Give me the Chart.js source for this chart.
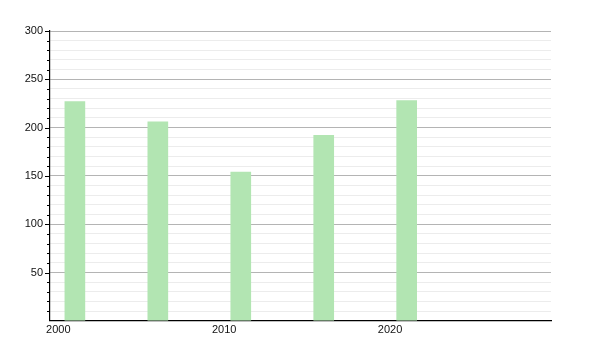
<!DOCTYPE html>
<html><head><meta charset="utf-8">
<script src="https://cdn.jsdelivr.net/npm/chart.js@4"></script>
<style>html,body{margin:0;padding:0;background:#fff}#wrap{width:600px;height:350px}</style>
</head><body><div id="wrap"><canvas id="c" width="600" height="350"></canvas></div>
<script>
const years = [2001, 2006, 2011, 2016, 2021];
const values = [227, 206, 154, 192, 228];
const xTicks = [2000, 2010, 2020];
const yLabelTicks = [50, 100, 150, 200, 250, 300];

const minorTicks = {
  id: 'minorTicks',
  afterDraw(chart) {
    const y = chart.scales.y, ctx = chart.ctx;
    const x0 = chart.chartArea.left;
    ctx.save();
    ctx.strokeStyle = '#000';
    ctx.lineWidth = 1;
    for (let v = 10; v <= 300; v += 10) {
      const py = Math.round(y.getPixelForValue(v)) + 0.5;
      const len = (v % 50 === 0) ? 5 : 3;
      ctx.beginPath();
      ctx.moveTo(x0 - len, py);
      ctx.lineTo(x0, py);
      ctx.stroke();
    }
    ctx.restore();
  }
};

new Chart(document.getElementById('c'), {
  type: 'bar',
  data: {
    datasets: [{
      data: years.map((x, i) => ({x: x, y: values[i]})),
      backgroundColor: '#b2e5b2',
      borderWidth: 0,
      barThickness: 20
    }]
  },
  options: {
    responsive: false,
    animation: false,
    layout: {padding: {top: 31, right: 49, left: 0, bottom: 10}},
    plugins: {legend: {display: false}, tooltip: {enabled: false}},
    scales: {
      x: {
        type: 'linear',
        offset: false,
        min: 1999.5,
        max: 2029.7,
        afterBuildTicks(s) { s.ticks = xTicks.map(v => ({value: v})); },
        grid: {display: false, drawTicks: false, offset: false},
        border: {display: true, color: '#000', width: 1.2},
        ticks: {color: '#111', font: {family: 'Liberation Sans', size: 11}, padding: 3, maxRotation: 0,
          callback: v => String(v)}
      },
      y: {
        min: 0,
        max: 300,
        afterFit(s) { s.width = 50; },
        ticks: {
          stepSize: 10,
          autoSkip: false,
          color: '#111',
          font: {family: 'Liberation Sans', size: 11},
          padding: 7,
          callback: v => (yLabelTicks.includes(v) ? String(v) : '')
        },
        grid: {
          drawTicks: false,
          color: c => (c.tick && c.tick.value % 50 === 0) ? '#b4b4b4' : '#ececec',
          lineWidth: 1
        },
        border: {display: true, color: '#000', width: 1.2}
      }
    }
  },
  plugins: [minorTicks]
});
</script></body></html>
